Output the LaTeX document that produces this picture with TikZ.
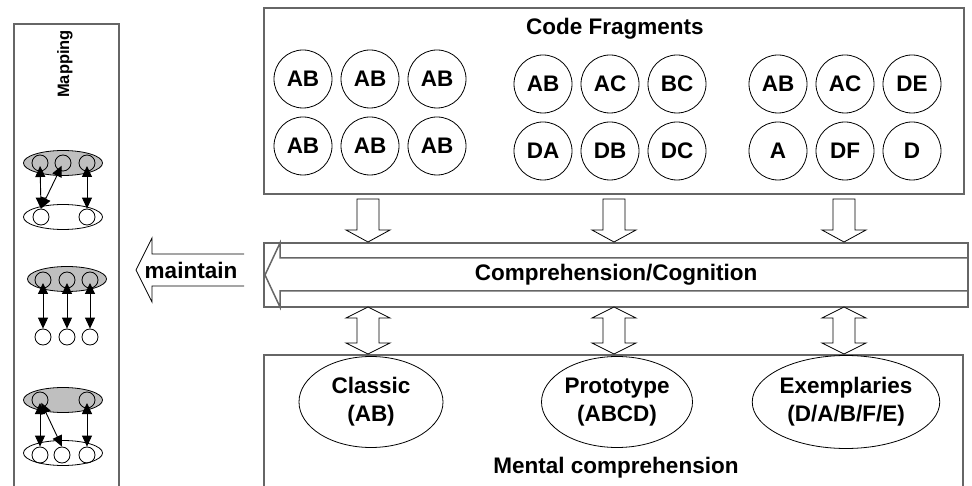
\documentclass[tikz,border=0pt]{standalone}
\usepackage{fontspec}
\setmainfont{Liberation Sans}
\usetikzlibrary{shapes.geometric,arrows.meta}

\begin{document}
\begin{tikzpicture}[x=1pt,y=-1pt,font=\bfseries\fontsize{22.5}{28}\selectfont,
                frag/.style={circle,draw,minimum size=58pt,inner sep=0pt,line width=0.8pt},
                concept/.style={ellipse,draw,align=center,inner sep=0pt,line width=0.8pt},
                group/.style={ellipse,draw,minimum width=79pt,minimum height=25pt,line width=0.8pt},
                item/.style={circle,draw,minimum size=16pt,inner sep=0pt,line width=0.8pt},
                frame/.style={draw=black!60,line width=1.5pt},
                hollow/.style={draw,fill=white,line width=0.8pt,line join=miter},
                map/.style={<->,>={Triangle[length=11pt,width=10pt]},line width=0.9pt,shorten <=3pt}]

            \useasboundingbox (0,0) rectangle (972,486);

            % frames
            \draw[frame] (14,486) -- (14,24) -- (119,24) -- (119,486);
            \draw[frame] (264,8) rectangle (964,194);
            \draw[frame] (264,243) rectangle (968,307);
            \draw[frame] (968,258) -- (280,258) -- (280,243) -- (265,275) -- (280,307) -- (280,291) -- (968,291);
            \draw[frame] (264,486) -- (264,355) -- (963,355) -- (963,486);

            \node (maptitle) at (65,64) [rotate=90, font=\bfseries\fontsize{16.5}{19}\selectfont] {Mapping};
            \node (codetitle) at (615,29) {Code Fragments};
            \node (cogtitle) at (616,275) {Comprehension/Cognition};
            \node (mentaltitle) at (616,468) {Mental comprehension};

            % code fragments
            \node[frag] (11) at (303,79) {AB};
            \node[frag] (12) at (370,79) {AB};
            \node[frag] (13) at (437,79) {AB};
            \node[frag] (14) at (303,146) {AB};
            \node[frag] (15) at (370,146) {AB};
            \node[frag] (16) at (437,146) {AB};
            \node[frag] (21) at (543,84) {AB};
            \node[frag] (22) at (610,84) {AC};
            \node[frag] (23) at (677,84) {BC};
            \node[frag] (24) at (543,151) {DA};
            \node[frag] (25) at (610,151) {DB};
            \node[frag] (26) at (677,151) {DC};
            \node[frag] (31) at (778,84) {AB};
            \node[frag] (32) at (845,84) {AC};
            \node[frag] (33) at (912,84) {DE};
            \node[frag] (34) at (778,151) {A};
            \node[frag] (35) at (845,151) {DF};
            \node[frag] (36) at (912,151) {D};

            % mental categories
            \node[concept, minimum width=144pt, minimum height=91pt] (classic) at (371,402) {Classic\\(AB)};
            \node[concept, minimum width=151pt, minimum height=91pt] (proto) at (617,402) {Prototype\\(ABCD)};
            \node[concept, minimum width=171pt, minimum height=93pt] (exem) at (846,402) {Exemplaries\\(D/A/B/F/E)};

            % block arrows
            \draw[hollow] (368,242) -- ++(22,-12) -- ++(-11,0) -- ++(0,-31) -- ++(-22,0) -- ++(0,31) -- ++(-11,0) -- cycle;
            \draw[hollow] (614,242) -- ++(22,-12) -- ++(-11,0) -- ++(0,-31) -- ++(-22,0) -- ++(0,31) -- ++(-11,0) -- cycle;
            \draw[hollow] (844,242) -- ++(22,-12) -- ++(-11,0) -- ++(0,-31) -- ++(-22,0) -- ++(0,31) -- ++(-11,0) -- cycle;
            \draw[hollow] (368,307) -- ++(22,11) -- ++(-11,0) -- ++(0,25) -- ++(11,0) -- ++(-22,11) -- ++(-22,-11) -- ++(11,0) -- ++(0,-25) -- ++(-11,0) -- cycle;
            \draw[hollow] (614,307) -- ++(22,11) -- ++(-11,0) -- ++(0,25) -- ++(11,0) -- ++(-22,11) -- ++(-22,-11) -- ++(11,0) -- ++(0,-25) -- ++(-11,0) -- cycle;
            \draw[hollow] (844,307) -- ++(22,11) -- ++(-11,0) -- ++(0,25) -- ++(11,0) -- ++(-22,11) -- ++(-22,-11) -- ++(11,0) -- ++(0,-25) -- ++(-11,0) -- cycle;
            \draw[hollow] (244,254) -- (152,254) -- (152,238) -- (136,270) -- (152,302) -- (152,286) -- (244,286);
            \node (maintain) at (191,270) {maintain};

            % mapping 1
            \node[group, fill=gray!50] (g1) at (63,163) {};
            \node[group] (h1) at (63,217) {};
            \node[item] (a1) at (40,163) {};
            \node[item] (a2) at (63,163) {};
            \node[item] (a3) at (87,163) {};
            \node[item] (b1) at (41,217) {};
            \node[item] (b3) at (87,217) {};
            \path[map]
            (a1.center) edge (b1.north)
            (a2.center) edge (b1.north)
            (a3.center) edge (b3.north);

            % mapping 2
            \node[group, fill=gray!50] (g2) at (67,279) {};
            \node[item] (c1) at (43,280) {};
            \node[item] (c2) at (67,280) {};
            \node[item] (c3) at (90,280) {};
            \node[item] (d1) at (43,337) {};
            \node[item] (d2) at (67,337) {};
            \node[item] (d3) at (90,337) {};
            \path[map]
            (c1.center) edge (d1.north)
            (c2.center) edge (d2.north)
            (c3.center) edge (d3.north);

            % mapping 3
            \node[group, fill=gray!50] (g3) at (63,400) {};
            \node[group] (h3) at (63,453) {};
            \node[item] (e1) at (40,400) {};
            \node[item] (e3) at (87,400) {};
            \node[item] (f1) at (40,455) {};
            \node[item] (f2) at (62,455) {};
            \node[item] (f3) at (87,455) {};
            \path[map]
            (e1.center) edge (f1.north)
            (e1.center) edge (f2.north)
            (e3.center) edge (f3.north);

        \end{tikzpicture}
\end{document}
